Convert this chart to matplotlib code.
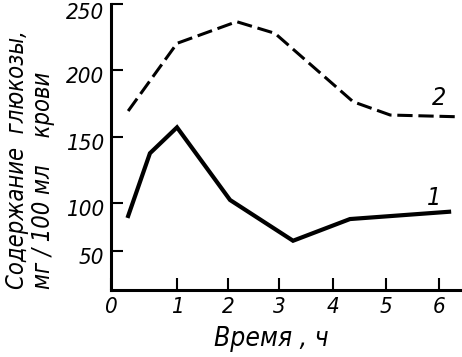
import numpy as np
import matplotlib
matplotlib.use("Agg")
import matplotlib.pyplot as plt
import matplotlib.transforms as mtransforms
from matplotlib import font_manager

# --- data ---
time_1 = [0.26, 0.59, 1.0, 2.04, 3.26, 4.32, 6.19]
glucose_1 = [86.5, 137.7, 157.2, 102.3, 60.7, 83.3, 90.9]
time_2 = [0.26, 1.0, 2.17, 2.92, 4.38, 5.08, 6.36]
glucose_2 = [169.4, 220.2, 236.6, 227.8, 176.3, 166.4, 165.1]
x_ticks = [0, 1, 2, 3, 4, 5, 6]
y_ticks = [50, 100, 150, 200, 250]
curve_labels = ["1", "2"]

# hand-drawn axis calibration (non-uniform spacing in the original)
x_cal_v = [-1, 0, 1, 2, 3, 4, 5, 6, 7]
x_cal_p = [45, 111, 177, 228, 279, 333, 386, 439, 492]
y_cal_v = [-50, 0, 50, 100, 150, 200, 250, 300]
y_cal_p = [-347, -299, -251, -203, -137, -70, -4, 62]

def fwd_x(v):
    return np.interp(np.asarray(v, float), x_cal_v, x_cal_p)
def inv_x(p):
    return np.interp(np.asarray(p, float), x_cal_p, x_cal_v)
def fwd_y(v):
    return np.interp(np.asarray(v, float), y_cal_v, y_cal_p)
def inv_y(p):
    return np.interp(np.asarray(p, float), y_cal_p, y_cal_v)

names = {f.name for f in font_manager.fontManager.ttflist}
fam = "Liberation Sans Narrow" if "Liberation Sans Narrow" in names else "DejaVu Sans"

W, H = 462, 357
fig = plt.figure(figsize=(W / 100, H / 100), dpi=100)
ax = fig.add_axes([111 / W, 1 - 290 / H, (461 - 111) / W, (290 - 4) / H])
ax.set_xscale("function", functions=(fwd_x, inv_x))
ax.set_yscale("function", functions=(fwd_y, inv_y))
ax.set_xlim(0, 6.415)
ax.set_ylim(9.4, 250)

ax.plot(time_1, glucose_1, color="black", lw=3.0, solid_joinstyle="miter")
ax.plot(time_2, glucose_2, color="black", lw=2.2, linestyle=(0, (5.0, 1.9)))

for s in ["top", "right"]:
    ax.spines[s].set_visible(False)
for s in ["left", "bottom"]:
    ax.spines[s].set_linewidth(2.2)

font = dict(family=fam, style="italic", stretch="condensed")
ax.set_xticks(x_ticks)
ax.set_yticks(y_ticks)
ax.set_xticklabels([str(t) for t in x_ticks], fontsize=16, **font)
ax.set_yticklabels([str(t) for t in y_ticks], fontsize=16, **font)
ax.tick_params(direction="in", length=8.5, width=1.5, pad=5)
for lab, t in zip(ax.get_yticklabels(), y_ticks):
    dy = -7 if t == 250 else -5
    lab.set_transform(lab.get_transform() + mtransforms.ScaledTranslation(0, dy / 100, fig.dpi_scale_trans))

ax.text(5.9, 104, curve_labels[0], fontsize=18, ha="center", va="center", **font)
ax.text(6.0, 179, curve_labels[1], fontsize=18, ha="center", va="center", **font)

fig.text(271 / W, 1 - 339 / H, "Время , ч", fontsize=19, ha="center", va="center", **font)
fig.text(30 / W, 1 - 160 / H, "Содержание  глюкозы,\nмг / 100 мл    крови",
         fontsize=17, rotation=90, ha="center", va="center",
         multialignment="left", linespacing=1.15, **font)

fig.savefig("out.png", dpi=100)
